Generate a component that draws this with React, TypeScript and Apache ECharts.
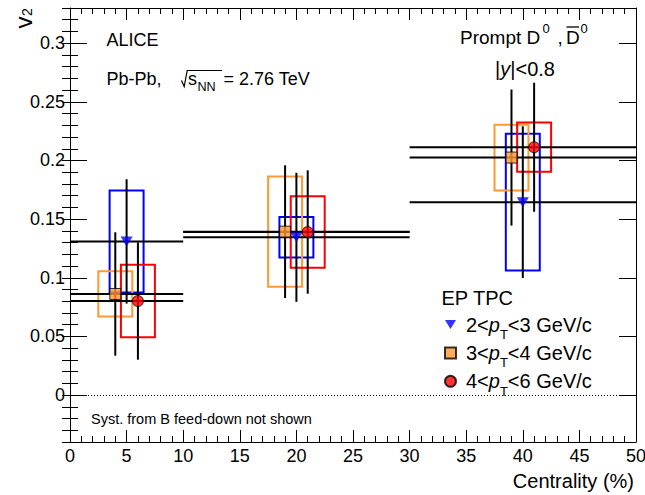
import React, { useEffect, useRef } from 'react';
import * as echarts from 'echarts';

// centrality bins (%)
const binLow = [0, 10, 30];
const binHigh = [10, 30, 50];

// pT bins (legend names)
const ptNames = ['2<pT<3 GeV/c', '3<pT<4 GeV/c', '4<pT<6 GeV/c'];

// 2<pT<3 GeV/c
const x23 = [5, 20, 40];
const v2_23 = [0.131, 0.1345, 0.1645];
const stat23 = [0.053, 0.055, 0.0647];
const syst23 = [0.0435, 0.0173, 0.0583];

// 3<pT<4 GeV/c
const x34 = [4, 19, 39];
const v2_34 = [0.0862, 0.1393, 0.2025];
const stat34 = [0.0526, 0.0566, 0.058];
const syst34 = [0.0193, 0.047, 0.028];

// 4<pT<6 GeV/c
const x46 = [6, 21, 41];
const v2_46 = [0.0802, 0.139, 0.2113];
const stat46 = [0.05, 0.0526, 0.055];
const syst46 = [0.031, 0.0305, 0.021];

const yMajorTicks = [0, 0.05, 0.1, 0.15, 0.2, 0.25, 0.3];
const yMin = -0.04;
const yMax = 0.33;

const FONT = '"Liberation Sans", Arial, Helvetica, sans-serif';
const BOX_HALF = 1.5;

const colors = ['#0000ff', '#ff9933', '#ff0000'];

function buildRows(xs: number[], v: number[], st: number[], sy: number[]) {
  return xs.map((x, i) => [x, v[i], st[i], sy[i], binLow[i], binHigh[i]]);
}

export default function App() {
  const ref = useRef<HTMLDivElement>(null);
  useEffect(() => {
    if (!ref.current) return;
    const chart = echarts.init(ref.current, undefined, { renderer: 'svg' });

    const yMinor: number[] = [];
    for (let i = -4; i <= 33; i++) yMinor.push(i / 100);

    const groups = [
      buildRows(x23, v2_23, stat23, syst23),
      buildRows(x34, v2_34, stat34, syst34),
      buildRows(x46, v2_46, stat46, syst46),
    ];

    const boxSeries = groups.map((rows, k) => ({
      type: 'custom',
      name: 'syst' + k,
      z: 2,
      encode: { x: 0, y: 1 },
      data: rows,
      renderItem: (params: any, api: any) => {
        const x = api.value(0), y = api.value(1), s = api.value(3);
        const p1 = api.coord([x - BOX_HALF, y + s]);
        const p2 = api.coord([x + BOX_HALF, y - s]);
        return {
          type: 'rect',
          shape: { x: p1[0], y: p1[1], width: p2[0] - p1[0], height: p2[1] - p1[1] },
          style: { fill: 'none', stroke: colors[k], lineWidth: 2 },
        };
      },
    }));

    const statSeries = groups.map((rows, k) => ({
      type: 'custom',
      name: 'stat' + k,
      z: 3,
      encode: { x: 0, y: 1 },
      data: rows,
      renderItem: (params: any, api: any) => {
        const x = api.value(0), y = api.value(1), e = api.value(2);
        const lo = api.value(4), hi = api.value(5);
        const a = api.coord([lo, y]);
        const b = api.coord([hi, y]);
        const c = api.coord([x, y + e]);
        const d = api.coord([x, y - e]);
        return {
          type: 'group',
          children: [
            { type: 'line', shape: { x1: a[0], y1: a[1], x2: b[0], y2: b[1] }, style: { stroke: '#000', lineWidth: 2 } },
            { type: 'line', shape: { x1: c[0], y1: c[1], x2: d[0], y2: d[1] }, style: { stroke: '#000', lineWidth: 2 } },
          ],
        };
      },
    }));

    const markerSeries = [
      {
        type: 'scatter',
        name: ptNames[0],
        z: 5,
        data: x23.map((x, i) => [x, v2_23[i]]),
        symbol: 'triangle',
        symbolRotate: 180,
        symbolSize: [12, 10],
        itemStyle: { color: colors[0] },
        markLine: {
          silent: true,
          symbol: 'none',
          label: { show: false },
          lineStyle: { type: [1, 2], color: '#000', width: 1 },
          data: [{ yAxis: 0 }],
        },
      },
      {
        type: 'scatter',
        name: ptNames[1],
        z: 5,
        data: x34.map((x, i) => [x, v2_34[i]]),
        symbol: 'rect',
        symbolSize: 11,
        itemStyle: { color: colors[1], borderColor: '#000', borderWidth: 1 },
      },
      {
        type: 'scatter',
        name: ptNames[2],
        z: 5,
        data: x46.map((x, i) => [x, v2_46[i]]),
        symbol: 'circle',
        symbolSize: 11,
        itemStyle: { color: colors[2], borderColor: '#000', borderWidth: 1 },
      },
    ];

    const legendRich: Record<string, string> = {
      [ptNames[0]]: '{f|2<}{i|p}{s|T}{n|<3 GeV/c}',
      [ptNames[1]]: '{f|3<}{i|p}{s|T}{n|<4 GeV/c}',
      [ptNames[2]]: '{f|4<}{i|p}{s|T}{n|<6 GeV/c}',
    };

    const tickLine = { color: '#000', width: 1 };
    const xAxisBase = {
      type: 'value',
      min: 0,
      max: 50,
      interval: 5,
      splitLine: { show: false },
      axisLine: { show: true, onZero: false, lineStyle: tickLine },
      axisTick: { show: true, inside: true, length: 12, lineStyle: tickLine },
      minorTick: { show: true, splitNumber: 5, length: 6, lineStyle: tickLine },
      minorSplitLine: { show: false },
    };
    const yAxisBase = {
      type: 'value',
      min: yMin,
      max: yMax,
      splitLine: { show: false },
      axisLine: { show: true, onZero: false, lineStyle: tickLine },
    };

    const txt = (left: number, top: number, text: string, size: number, extra: any = {}) => ({
      type: 'text',
      x: left,
      y: top,
      silent: true,
      style: {
        text,
        fill: '#000',
        fontSize: size,
        fontFamily: FONT,
        align: 'left',
        verticalAlign: 'middle',
        ...extra,
      },
    });

    chart.setOption({
      animation: false,
      textStyle: { fontFamily: FONT },
      grid: { left: 70, right: 9, top: 8, bottom: 53, containLabel: false, outerBoundsMode: 'none' },
      xAxis: [
        {
          ...xAxisBase,
          position: 'bottom',
          axisLabel: { show: true, color: '#000', fontSize: 18, fontFamily: FONT, margin: 5 },
        },
        {
          ...xAxisBase,
          position: 'top',
          axisLabel: { show: false },
        },
      ],
      yAxis: [
        {
          ...yAxisBase,
          position: 'left',
          axisTick: { show: true, inside: true, length: 17, lineStyle: tickLine, customValues: yMajorTicks },
          axisLabel: { show: true, color: '#000', fontSize: 18, fontFamily: FONT, margin: 5, customValues: yMajorTicks },
        },
        {
          ...yAxisBase,
          position: 'left',
          axisLine: { show: false },
          axisTick: { show: true, inside: true, length: 8, lineStyle: tickLine, customValues: yMinor },
          axisLabel: { show: false },
        },
        {
          ...yAxisBase,
          position: 'right',
          axisTick: { show: true, inside: true, length: 17, lineStyle: tickLine, customValues: yMajorTicks },
          axisLabel: { show: false },
        },
        {
          ...yAxisBase,
          position: 'right',
          axisLine: { show: false },
          axisTick: { show: true, inside: true, length: 8, lineStyle: tickLine, customValues: yMinor },
          axisLabel: { show: false },
        },
      ],
      legend: {
        orient: 'vertical',
        left: 444,
        top: 308,
        padding: 0,
        itemGap: -4.6,
        itemWidth: 11,
        itemHeight: 11,
        selectedMode: false,
        data: [
          { name: ptNames[0], icon: 'path://M0,0L12,0L6,10Z' },
          { name: ptNames[1] },
          { name: ptNames[2] },
        ],
        formatter: (name: string) => legendRich[name],
        textStyle: {
          color: '#000',
          fontFamily: FONT,
          fontSize: 20,
          lineHeight: 20,
          rich: {
            f: { fontSize: 20, fontFamily: FONT, color: '#000', lineHeight: 20, padding: [0, 0, 0, 5] },
            n: { fontSize: 20, fontFamily: FONT, color: '#000', lineHeight: 20 },
            i: { fontSize: 20, fontFamily: FONT, color: '#000', fontStyle: 'italic', lineHeight: 20 },
            s: { fontSize: 13, fontFamily: FONT, color: '#000', lineHeight: 20, padding: [20, 0, 0, 0] },
          },
        },
      },
      graphic: [
        txt(106.5, 40, 'ALICE', 18),
        txt(106.5, 79.3, 'Pb-Pb,', 18),
        {
          type: 'polyline',
          silent: true,
          shape: { points: [[181.5, 80.5], [184.2, 86.5], [187.2, 70.5], [222, 70.5]] },
          style: { stroke: '#000', lineWidth: 1.2, fill: 'none' },
        },
        txt(188, 79.3, 's', 18),
        txt(197.5, 87, 'NN', 12.6),
        txt(223.5, 79.3, '= 2.76 TeV', 18),
        txt(460, 37, 'Prompt D', 19),
        txt(542.5, 28.3, '0', 13),
        txt(557.5, 37, ',', 19),
        txt(566, 37, 'D', 19),
        {
          type: 'line',
          silent: true,
          shape: { x1: 566.5, y1: 27, x2: 579, y2: 27 },
          style: { stroke: '#000', lineWidth: 1.3 },
        },
        txt(580.5, 28.3, '0', 13),
        {
          type: 'text',
          x: 525,
          y: 69,
          silent: true,
          style: {
            text: '{n||}{i|y}{n||<0.8}',
            align: 'center',
            verticalAlign: 'middle',
            fill: '#000',
            fontSize: 20,
            fontFamily: FONT,
            rich: {
              n: { fontSize: 20, fontFamily: FONT, fill: '#000' },
              i: { fontSize: 20, fontFamily: FONT, fill: '#000', fontStyle: 'italic' },
            },
          },
        },
        txt(441.5, 298, 'EP TPC', 20),
        txt(91, 419, 'Syst. from B feed-down not shown', 14.5),
        txt(634, 481, 'Centrality (%)', 20, { align: 'right' }),
        {
          type: 'text',
          x: 23,
          y: 28.5,
          rotation: Math.PI / 2,
          silent: true,
          style: { text: 'v', fill: '#000', fontSize: 24, fontFamily: FONT, align: 'left', verticalAlign: 'middle' },
        },
        {
          type: 'text',
          x: 27,
          y: 16,
          rotation: Math.PI / 2,
          silent: true,
          style: { text: '2', fill: '#000', fontSize: 14, fontFamily: FONT, align: 'left', verticalAlign: 'middle' },
        },
      ],
      series: [...boxSeries, ...statSeries, ...markerSeries],
    });

    return () => chart.dispose();
  }, []);

  return <div ref={ref} style={{ width: 645, height: 495, position: 'absolute', left: 0, top: 0 }} />;
}
